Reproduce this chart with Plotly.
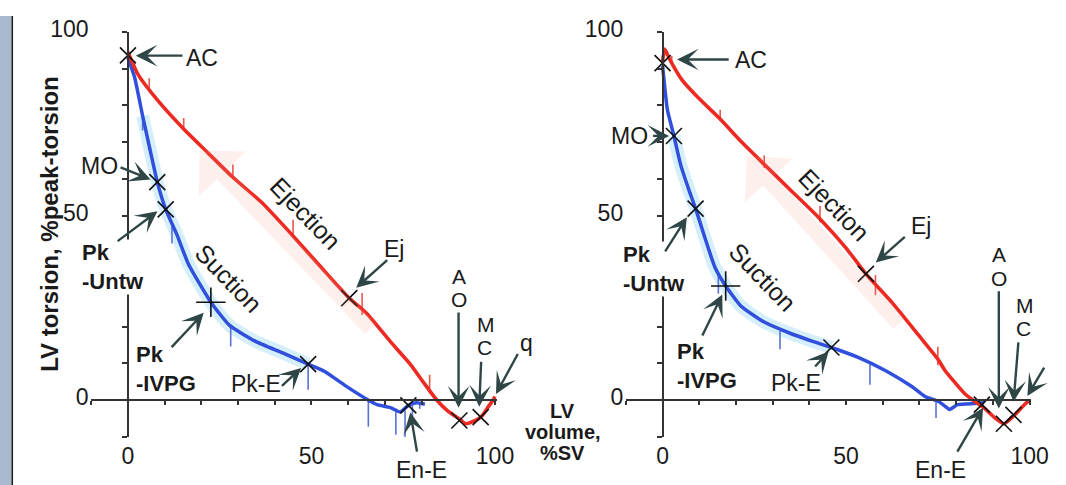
import plotly.graph_objects as go

W, H = 1066, 485

# ---------------- data (x = LV volume %SV, y = LV torsion %peak) ----------------
left_red_x = [0, 2.7, 8.0, 15.2, 21.4, 28.6, 36.6, 45.6, 52.7, 60.3, 65.2, 71.5, 76.9, 80.4,
              84.0, 87.1, 90.3, 92.0, 94.7, 96.5, 98.3, 99.6, 100]
left_red_y = [94.5, 88.5, 81.5, 73.6, 67.5, 60.5, 53.5, 43.9, 36.0, 27.7, 23.4, 15.9, 9.8, 5.0,
              0.2, -2.9, -5.1, -6.4, -5.5, -4.2, -1.6, 0.2, 1.0]
left_blue_x = [0, 1.8, 4.0, 6.3, 8.0, 10.3, 13.4, 16.5, 22.6, 27.7, 34.9, 42.0, 49.1, 53.6,
               59.0, 65.2, 67.9, 71.5, 74.2, 76.4, 78.6, 80.9]
left_blue_y = [93.0, 87.7, 77.2, 66.7, 59.2, 51.8, 44.8, 36.9, 26.6, 20.3, 15.9, 12.9, 9.8, 7.8,
               4.1, 0.2, -1.2, -2.0, -3.2, -1.4, -0.7, -1.1]

right_red_x = [0, 0.6, 1.8, 5.4, 9.8, 15.7, 21.4, 27.7, 34.9, 42.9, 50.0, 55.4, 62.6, 69.7,
               75.1, 77.0, 82.2, 84.6, 87.5, 90.3, 93.0, 96.1, 98.3, 99.7]
right_red_y = [92.0, 95.3, 92.8, 86.8, 82.0, 76.3, 70.2, 64.0, 57.0, 49.2, 41.3, 34.3, 26.4, 17.7,
               11.0, 8.0, 1.9, 0.0, -2.0, -4.6, -6.4, -3.8, -1.5, -0.2]
right_blue_x = [0, 0.5, 1.3, 3.1, 4.9, 7.2, 9.0, 11.6, 14.3, 17.2, 21.4, 27.7, 34.9, 41.1, 46.0,
                53.6, 60.8, 67.9, 71.5, 75.1, 76.9, 78.2, 80.4, 84.9, 87.6]
right_blue_y = [90.7, 85.9, 78.9, 71.7, 64.0, 57.0, 52.0, 43.9, 36.0, 31.0, 25.5, 21.2, 18.1, 15.9,
                14.3, 11.5, 8.0, 3.7, 1.0, -0.3, -1.6, -2.5, -1.2, -0.9, -0.7]

# SD bars
left_red_err_x = [5.8, 15.2, 28.6, 45.0, 63.8, 82.2]
left_red_err_y = [84.4, 73.6, 60.5, 44.5, 24.6, 2.3]
left_red_err_plus = [3.0, 3.0, 3.5, 4.5, 4.5, 4.6]
left_red_err_minus = [0.5, 0.5, 0.5, 0.5, 1.5, 0.5]
left_blue_err_x = [4.0, 12.0, 28.0, 49.1, 65.5, 73.0, 75.5, 77.5, 79.5]
left_blue_err_y = [77.2, 47.5, 20.1, 9.8, 0.1, -2.9, -2.7, -1.3, -0.8]
left_blue_err_minus = [4.0, 5.0, 5.5, 7.0, 7.3, 6.5, 7.3, 3.5, 1.5]

right_red_err_x = [2.5, 15.7, 27.7, 42.9, 58.0, 75.0]
right_red_err_y = [91.5, 76.3, 64.0, 49.2, 30.5, 11.0]
right_red_err_plus = [2.0, 2.5, 2.5, 3.5, 3.5, 3.5]
right_red_err_minus = [0.5, 0.5, 1.0, 1.0, 2.0, 1.5]
right_blue_err_x = [15.2, 32.0, 56.5, 74.5]
right_blue_err_y = [34.4, 18.8, 10.2, 0.2]
right_blue_err_minus = [5.5, 5.0, 6.0, 5.0]

# event markers: AC, MO, Pk-Untw, Pk-E, Ej, En-E, AO, MC
event_names = ["AC", "MO", "Pk-Untw", "Pk-E", "Ej", "En-E", "AO", "MC"]
left_event_x = [0, 8.0, 10.3, 49.1, 60.3, 76.4, 90.3, 96.1]
left_event_y = [93.6, 59.2, 51.8, 9.8, 27.7, -1.4, -5.5, -4.6]
right_event_x = [0, 3.1, 9.0, 46.0, 55.4, 87.0, 93.0, 95.6]
right_event_y = [91.5, 71.7, 52.0, 14.3, 34.3, -1.2, -6.4, -4.0]
left_ivpg_x, left_ivpg_y = [22.6], [26.6]
right_ivpg_x, right_ivpg_y = [17.2], [31.0]

x_tick_vals = [0, 50, 100]
y_tick_vals = [0, 50, 100]

# ---------------- geometry ----------------
X0PX = [130.0, 673.3]   # pixel of volume 0 in each panel
SX = 3.73
Y0PX = 397.3
SY = 3.81
XR = [-10, 100.5]
YR = [-10, 100]

def xdom(p):
    return [(X0PX[p] + XR[0] * SX) / W, (X0PX[p] + XR[1] * SX) / W]

ydom = [1 - (Y0PX - YR[0] * SY) / H, 1 - (Y0PX - YR[1] * SY) / H]

def dx(p, px):
    return (px - X0PX[p]) / SX

def dy(py):
    return (Y0PX - py) / SY

RED = "#EC2A22"
BLUE = "#2F4FDC"
AX = "#333333"
TXT = "#1a1a1a"
ARW = "#2F4646"
FONT = "Liberation Sans, Arial, sans-serif"

fig = go.Figure()

panels = [
    dict(rx=left_red_x, ry=left_red_y, bx=left_blue_x, by=left_blue_y,
         rex=left_red_err_x, rey=left_red_err_y, rep=left_red_err_plus, rem=left_red_err_minus,
         bex=left_blue_err_x, bey=left_blue_err_y, bem=left_blue_err_minus,
         ex=left_event_x, ey=left_event_y, ix=left_ivpg_x, iy=left_ivpg_y, band=(2, 13)),
    dict(rx=right_red_x, ry=right_red_y, bx=right_blue_x, by=right_blue_y,
         rex=right_red_err_x, rey=right_red_err_y, rep=right_red_err_plus, rem=right_red_err_minus,
         bex=right_blue_err_x, bey=right_blue_err_y, bem=right_blue_err_minus,
         ex=right_event_x, ey=right_event_y, ix=right_ivpg_x, iy=right_ivpg_y, band=(3, 15)),
]

for p, d in enumerate(panels):
    xa = "x" if p == 0 else "x2"
    ya = "y" if p == 0 else "y2"
    b0, b1 = d["band"]
    fig.add_trace(go.Scatter(x=d["bx"][b0:b1], y=d["by"][b0:b1], mode="lines",
                             line=dict(color="rgba(160,220,242,0.45)", width=13, shape="spline", smoothing=0.6),
                             xaxis=xa, yaxis=ya, hoverinfo="skip", showlegend=False))
    fig.add_trace(go.Scatter(x=d["bex"], y=d["bey"], mode="markers",
                             marker=dict(size=1, color="rgba(0,0,0,0)"),
                             error_y=dict(type="data", symmetric=False, array=[0] * len(d["bex"]),
                                          arrayminus=d["bem"], color="#5A72D8", thickness=1.6, width=0),
                             xaxis=xa, yaxis=ya, hoverinfo="skip", showlegend=False))
    fig.add_trace(go.Scatter(x=d["rex"], y=d["rey"], mode="markers",
                             marker=dict(size=1, color="rgba(0,0,0,0)"),
                             error_y=dict(type="data", symmetric=False, array=d["rep"],
                                          arrayminus=d["rem"], color="#E8574E", thickness=1.6, width=0),
                             xaxis=xa, yaxis=ya, hoverinfo="skip", showlegend=False))
    fig.add_trace(go.Scatter(x=d["bx"], y=d["by"], mode="lines",
                             line=dict(color=BLUE, width=3.5, shape="spline", smoothing=0.5),
                             xaxis=xa, yaxis=ya, hoverinfo="skip", showlegend=False))
    fig.add_trace(go.Scatter(x=d["rx"], y=d["ry"], mode="lines",
                             line=dict(color=RED, width=3.6, shape="spline", smoothing=0.5),
                             xaxis=xa, yaxis=ya, hoverinfo="skip", showlegend=False))
    fig.add_trace(go.Scatter(x=d["ex"], y=d["ey"], mode="markers", text=event_names,
                             marker=dict(symbol="x-thin", size=16, line=dict(width=1.6, color="#111")),
                             xaxis=xa, yaxis=ya, hoverinfo="text", showlegend=False, cliponaxis=False))
    fig.add_trace(go.Scatter(x=d["ix"], y=d["iy"], mode="markers",
                             marker=dict(symbol="cross-thin", size=21, line=dict(width=1.6, color="#111")),
                             xaxis=xa, yaxis=ya, hoverinfo="skip", showlegend=False, cliponaxis=False))

# right-panel "q" label is cut by the figure edge in the reference
fig.add_trace(go.Scatter(x=[dx(1, 1067)], y=[dy(343)], mode="text", text=["q"], textposition="middle center",
                         textfont=dict(family=FONT, size=23, color=TXT), xaxis="x2", yaxis="y2",
                         hoverinfo="skip", showlegend=False, cliponaxis=False))

# ---------------- annotations (pixel positions) ----------------
# (text, px, py, size, bold, angle, xanchor)
left_texts = [
    ("AC", 205, 43, 23, False, 0, "center"), ("MO", 101, 155, 23, False, 0, "center"),
    ("Pk<br>-Untw", 82, 260, 22, True, 0, "left"),
    ("Ejection", 310, 204, 25, False, 46, "center"), ("Suction", 232, 271, 25, False, 46, "center"),
    ("Ej", 400, 241, 23, False, 0, "center"),
    ("Pk<br>-IVPG", 137, 365, 22, True, 0, "left"),
    ("Pk-E", 260, 381, 23, False, 0, "center"),
    ("A", 466, 269, 21, False, 0, "center"), ("O", 466, 293, 21, False, 0, "center"),
    ("M", 494, 319, 21, False, 0, "center"), ("C", 492, 343, 21, False, 0, "center"),
    ("q", 535, 338, 23, False, 0, "center"), ("En-E", 428, 470, 23, False, 0, "center"),
]
right_texts = [
    ("AC", 763, 45, 23, False, 0, "center"), ("MO", 640, 124, 23, False, 0, "center"),
    ("Pk<br>-Untw", 632, 262, 22, True, 0, "left"),
    ("Ejection", 848, 195, 25, False, 46, "center"), ("Suction", 775, 270, 25, False, 46, "center"),
    ("Ej", 936, 217, 23, False, 0, "center"),
    ("Pk<br>-IVPG", 687, 362, 22, True, 0, "left"),
    ("Pk-E", 809, 380, 23, False, 0, "center"),
    ("A", 1015, 247, 21, False, 0, "center"), ("O", 1015, 271, 21, False, 0, "center"),
    ("M", 1042, 299, 21, False, 0, "center"), ("C", 1040, 323, 21, False, 0, "center"),
    ("En-E", 956, 469, 23, False, 0, "center"),
]
left_arrows = [(187, 41, 138, 41), (121, 156, 153, 169), (118, 234, 160, 202), (395, 251, 362, 281),
               (173, 344, 207, 307), (285, 384, 306, 364), (466, 305, 466, 405), (489, 356, 487, 404),
               (527, 348, 504, 391), (424, 452, 417, 410)]
right_arrows = [(742, 45, 688, 45), (662, 124, 680, 124), (675, 245, 698, 208), (921, 227, 890, 255),
                (713, 332, 734, 288), (827, 364, 842, 347), (1015, 283, 1015, 406), (1035, 336, 1030, 399),
                (1062, 362, 1044, 393), (972, 452, 999, 405)]
pink_arrows = [(378, 325, 203, 139), (915, 320, 759, 145)]

annotations = []
for p, (texts, arrows) in enumerate([(left_texts, left_arrows), (right_texts, right_arrows)]):
    xr = "x" if p == 0 else "x2"
    yr = "y" if p == 0 else "y2"
    sx, sy, ex, ey = pink_arrows[p]
    annotations.append(dict(x=dx(p, ex), y=dy(ey), ax=dx(p, sx), ay=dy(sy), xref=xr, yref=yr,
                            axref=xr, ayref=yr, text="", showarrow=True, arrowhead=1, arrowsize=0.72,
                            arrowwidth=15, arrowcolor="rgba(248,150,135,0.15)", standoff=0))
    for (t, px, py, fs, bold, ang, xan) in texts:
        annotations.append(dict(x=px / W, y=1 - py / H, xref="paper", yref="paper",
                                text=f"<b>{t}</b>" if bold else t, showarrow=False,
                                xanchor=xan, yanchor="middle", textangle=ang,
                                align=xan if xan != "center" else "center", borderpad=0,
                                font=dict(family=FONT, size=fs, color=TXT),
                                bgcolor="white" if bold else "rgba(0,0,0,0)"))
    for (sx, sy, ex, ey) in arrows:
        annotations.append(dict(x=dx(p, ex), y=dy(ey), ax=dx(p, sx), ay=dy(sy), xref=xr, yref=yr,
                                axref=xr, ayref=yr, text="", showarrow=True, arrowhead=3, arrowsize=1.5,
                                arrowwidth=2.4, arrowcolor=ARW, standoff=0))

# axis titles
annotations.append(dict(x=35 / W, y=1 - 215 / H, xref="paper", yref="paper", showarrow=False,
                        text="<b>LV torsion, %peak-torsion</b>", textangle=-90,
                        font=dict(family=FONT, size=24, color=TXT)))
for t, py in [("LV", 408), ("volume,", 430), ("%SV", 452)]:
    annotations.append(dict(x=572 / W, y=1 - py / H, xref="paper", yref="paper", showarrow=False,
                            text=f"<b>{t}</b>", yanchor="middle", borderpad=0,
                            font=dict(family=FONT, size=20, color=TXT)))

def xaxis_cfg(p):
    return dict(domain=xdom(p), range=XR, anchor="free", position=1 - Y0PX / H,
                showline=True, linecolor=AX, linewidth=1.5, showgrid=False, zeroline=False,
                ticks="outside", ticklen=4, tickwidth=1.5, tickcolor=AX,
                tickvals=x_tick_vals, ticktext=[str(v) for v in x_tick_vals],
                minor=dict(tick0=0, dtick=10, ticks="outside", ticklen=4, tickwidth=1.5, tickcolor=AX),
                tickfont=dict(family=FONT, size=23, color=TXT), ticklabelstandoff=31, fixedrange=True)

def yaxis_cfg(p):
    return dict(domain=ydom, range=YR, anchor="free", position=X0PX[p] / W,
                showline=True, linecolor=AX, linewidth=1.5, showgrid=False, zeroline=False,
                ticks="outside", ticklen=5, tickwidth=1.5, tickcolor=AX,
                tickvals=y_tick_vals, ticktext=[str(v) for v in y_tick_vals],
                minor=dict(tick0=0, dtick=10, ticks="outside", ticklen=5, tickwidth=1.5, tickcolor=AX),
                tickfont=dict(family=FONT, size=23, color=TXT), ticklabelstandoff=29,
                ticklabelshift=-3, fixedrange=True)

fig.update_layout(
    width=W, height=H, margin=dict(l=0, r=0, t=0, b=0),
    paper_bgcolor="white", plot_bgcolor="white",
    xaxis=xaxis_cfg(0), yaxis=yaxis_cfg(0),
    xaxis2=xaxis_cfg(1), yaxis2=yaxis_cfg(1),
    annotations=annotations, showlegend=False,
    shapes=[
        dict(type="rect", xref="paper", yref="paper", x0=0, x1=12 / W, y0=0, y1=1,
             fillcolor="#AAB8D0", line=dict(width=0), layer="below"),
        dict(type="line", xref="paper", yref="paper", x0=12.5 / W, x1=12.5 / W, y0=0, y1=1,
             line=dict(color="#1A1A1A", width=1.5)),
    ],
)

fig.write_html("out.html")
